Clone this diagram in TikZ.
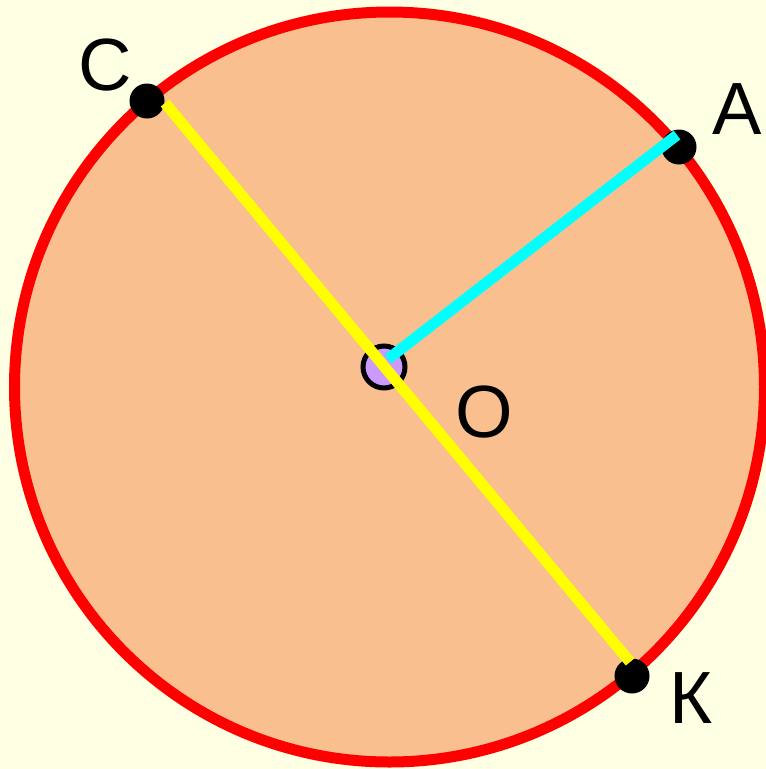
\documentclass[tikz,border=0pt]{standalone}
\usepackage{fontspec}
\setmainfont{Liberation Sans}
\definecolor{bgcream}{HTML}{FFFFE3}
\definecolor{peach}{HTML}{FABF8F}
\definecolor{lilac}{HTML}{CC99FF}
\definecolor{aqua}{HTML}{00FFFF}
\definecolor{lemon}{HTML}{FFFF00}

\begin{document}
\begin{tikzpicture}[x=1pt,y=-1pt,
    dot/.style={circle,fill=black,inner sep=0pt,minimum size=35pt},
    ptlabel/.style={inner sep=0pt,font=\fontsize{74}{74}\selectfont},
    seg/.style={line width=11pt}]
  % background and page size
  \fill[bgcream] (0,0) rectangle (766,769);
  \useasboundingbox (0,0) rectangle (766,769);
  % the circle
  \draw[red,fill=peach,line width=11pt] (389.5,387) circle[radius=375];
  % points on the circle
  \node[dot] (C) at (147,101) {};
  \node[dot] (A) at (679,147) {};
  \node[dot] (K) at (632,676) {};
  % centre
  \node[circle,draw=black,fill=lilac,line width=5pt,inner sep=0pt,
    minimum size=42pt] (O) at (384,367) {};
  % ends of the segments
  \coordinate (r1) at (388,359);   % radius, at O
  \coordinate (r2) at (677,135);   % radius, at A
  \coordinate (d1) at (165,103);   % diameter, at C
  \coordinate (d2) at (630,662);   % diameter, at K
  \draw[seg,aqua] (r1) -- (r2);
  \draw[seg,lemon] (d1) -- (d2);
  % labels
  \node[ptlabel] (lC) at (105,65) {С};
  \node[ptlabel] (lA) at (737,109) {А};
  \node[ptlabel] (lO) at (484,412) {О};
  \node[ptlabel] (lK) at (691,698) {К};
\end{tikzpicture}
\end{document}
